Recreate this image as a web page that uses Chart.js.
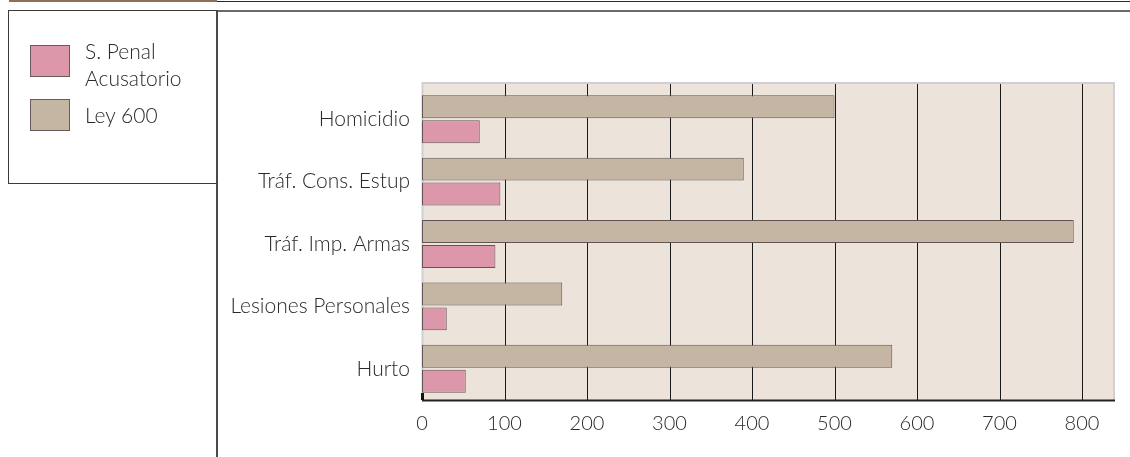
<!DOCTYPE html>
<html>
<head>
<meta charset="utf-8">
<script src="https://cdn.jsdelivr.net/npm/chart.js@4.4.1/dist/chart.umd.min.js"></script>
<style>
  html, body { margin: 0; padding: 0; background: #fff; }
  #page { position: relative; width: 1130px; height: 457px; overflow: hidden; font-family: Lato, sans-serif; font-weight: 300; color: #2a2a2a; }
  #chartWrap { position: absolute; left: 0; top: 0; width: 1130px; height: 457px; }
  .rule { position: absolute; }
  #legendBox { position: absolute; left: 8px; top: 10px; width: 208px; height: 172px; border: 1px solid #3a3a3a; border-right: none; }
  .legItem { position: absolute; left: 21px; }
  .swatch { position: absolute; left: 0; width: 40px; height: 32px; border: 1px solid #6a5a5a; box-sizing: border-box; }
  .legText { position: absolute; left: 55px; font-size: 21px; line-height: 27px; white-space: nowrap; }
</style>
</head>
<body>
<div id="page">
  <div id="chartWrap"><canvas id="chart"></canvas></div>

  <!-- header rules -->
  <div class="rule" style="left:9px; top:0; width:208px; height:2px; background:#8c7057;"></div>
  <div class="rule" style="left:217px; top:1px; width:913px; height:1px; background:#2a2a2a;"></div>
  <div class="rule" style="left:217px; top:10px; width:913px; height:2px; background:#6a6a6a;"></div>
  <div class="rule" style="left:216px; top:10px; width:2px; height:447px; background:#4a4a4a;"></div>

  <div id="legendBox">
    <div class="legItem" style="top:34px;">
      <div class="swatch" style="background:#dc98aa;"></div>
      <div class="legText" style="top:-8px;">S. Penal<br>Acusatorio</div>
    </div>
    <div class="legItem" style="top:88px;">
      <div class="swatch" style="background:#c5b5a3;"></div>
      <div class="legText" style="top:2px;">Ley 600</div>
    </div>
  </div>
</div>

<script>
  const categories = ['Homicidio', 'Tráf. Cons. Estup', 'Tráf. Imp. Armas', 'Lesiones Personales', 'Hurto'];
  const ley600 = [500, 390, 790, 170, 570];
  const penalAcusatorio = [70, 95, 89, 30, 53];
  const seriesNames = ['Ley 600', 'S. Penal Acusatorio'];
  const xTicks = [0, 100, 200, 300, 400, 500, 600, 700, 800];
  const xMax = 840;

  const PLOT_BG = '#ece3da';
  const FRAME = '#cfcfd4';
  const GRID = '#1a1a1a';

  Chart.defaults.font.family = 'Lato, sans-serif';
  Chart.defaults.font.weight = '300';
  Chart.defaults.color = '#2a2a2a';

  // plot background, frame and vertical grid, drawn under the bars;
  // the panel runs a few pixels above the first category band
  const plotPanel = {
    id: 'plotPanel',
    beforeDatasetsDraw(chart) {
      const { ctx, chartArea: a, scales: { x } } = chart;
      const top = a.top - 6;
      ctx.save();
      ctx.fillStyle = PLOT_BG;
      ctx.fillRect(a.left, top, a.right - a.left, a.bottom - top);

      ctx.strokeStyle = FRAME;
      ctx.lineWidth = 2;
      ctx.beginPath();
      ctx.moveTo(a.left + 0.5, a.bottom);
      ctx.lineTo(a.left + 0.5, top + 1);
      ctx.lineTo(a.right - 1, top + 1);
      ctx.lineTo(a.right - 1, a.bottom);
      ctx.stroke();

      ctx.strokeStyle = GRID;
      ctx.lineWidth = 1;
      xTicks.forEach(v => {
        if (v === 0) return;
        const px = Math.round(x.getPixelForValue(v)) + 0.5;
        ctx.beginPath();
        ctx.moveTo(px, top + 2);
        ctx.lineTo(px, a.bottom);
        ctx.stroke();
      });
      ctx.restore();
    },
    afterDatasetsDraw(chart) {
      const { ctx, chartArea: a } = chart;
      ctx.save();
      ctx.strokeStyle = '#222';
      ctx.lineWidth = 2;
      ctx.beginPath();
      ctx.moveTo(a.left, a.bottom + 0.5);
      ctx.lineTo(a.right, a.bottom + 0.5);
      ctx.stroke();
      ctx.fillStyle = '#111';
      ctx.fillRect(a.left - 1, a.bottom - 7, 3, 7);
      ctx.restore();
    }
  };

  new Chart(document.getElementById('chart'), {
    type: 'bar',
    data: {
      labels: categories,
      datasets: [
        {
          label: seriesNames[0],
          data: ley600,
          backgroundColor: '#c5b5a3',
          borderColor: '#625454',
          borderWidth: 1,
          borderSkipped: false,
          barPercentage: 0.92,
          categoryPercentage: 0.8
        },
        {
          label: seriesNames[1],
          data: penalAcusatorio,
          backgroundColor: '#dc98aa',
          borderColor: '#625454',
          borderWidth: 1,
          borderSkipped: false,
          barPercentage: 0.92,
          categoryPercentage: 0.8
        }
      ]
    },
    options: {
      indexAxis: 'y',
      responsive: true,
      maintainAspectRatio: false,
      animation: false,
      layout: { padding: { left: 217, top: 88, right: 15, bottom: 0 } },
      scales: {
        x: {
          min: 0,
          max: xMax,
          afterBuildTicks: s => { s.ticks = xTicks.map(v => ({ value: v })); },
          afterFit: s => { s.height = 57; },
          grid: { display: false },
          border: { display: false },
          ticks: { padding: 4, font: { size: 20, weight: '300' }, color: '#2a2a2a' }
        },
        y: {
          afterFit: s => { s.width = 205; },
          grid: { display: false },
          border: { display: false },
          ticks: { padding: 4, font: { size: 21, weight: '300' }, color: '#2a2a2a' }
        }
      },
      plugins: {
        legend: { display: false },
        tooltip: { enabled: false }
      }
    },
    plugins: [plotPanel]
  });
</script>
</body>
</html>
